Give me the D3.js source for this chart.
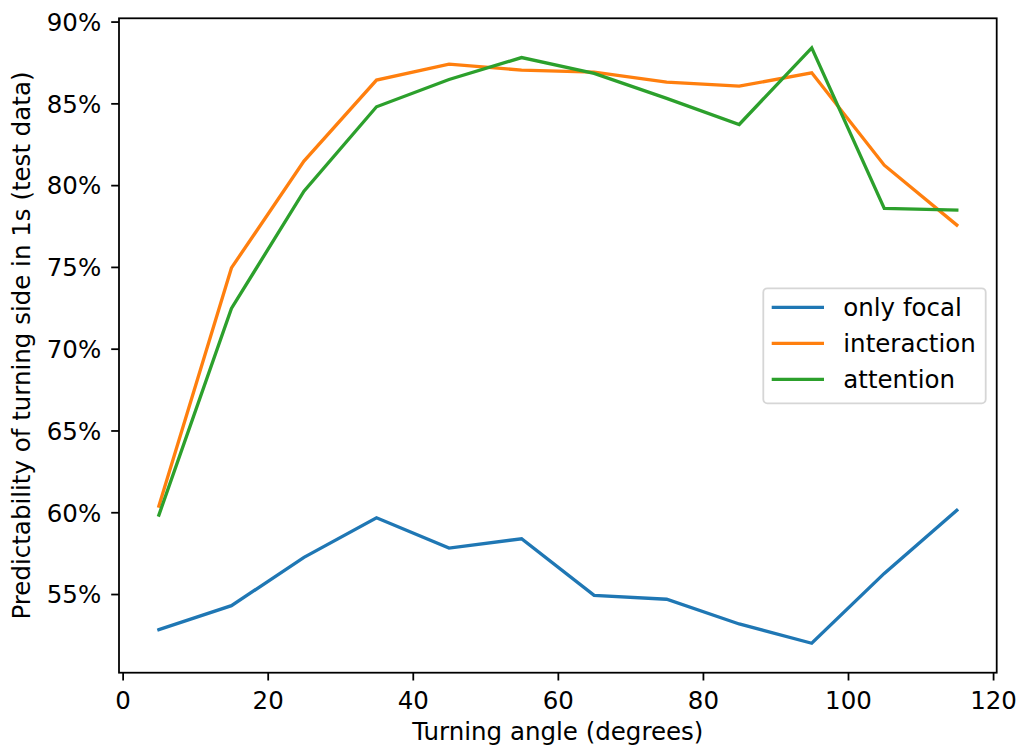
<!DOCTYPE html>
<html>
<head>
<meta charset="utf-8">
<script src="https://cdn.jsdelivr.net/npm/d3@7/dist/d3.min.js"></script>
<style>
  html, body { margin: 0; padding: 0; background: #fff; }
  svg { display: block; font-family: "DejaVu Sans", sans-serif; }
</style>
</head>
<body>
<svg id="chart" width="1022" height="751"></svg>
<script>
// Turning angle bins (degrees)
const angles = [5, 15, 25, 35, 45, 55, 65, 75, 85, 95, 105, 115];

// Predictability of turning side in 1s, test data (%)
const onlyFocal   = [52.82, 54.29, 57.24, 59.66, 57.81, 58.38, 54.92, 54.68, 53.17, 51.99, 56.26, 60.12];
const interaction = [60.38, 74.94, 81.47, 86.42, 87.40, 87.03, 86.91, 86.30, 86.05, 86.87, 81.22, 77.56];
const attention   = [59.83, 72.46, 79.63, 84.79, 86.46, 87.80, 86.83, 85.30, 83.71, 88.39, 78.58, 78.47];

const seriesNames = ["only focal", "interaction", "attention"];
const seriesColors = ["#1f77b4", "#ff7f0e", "#2ca02c"];

const xTicks = [0, 20, 40, 60, 80, 100, 120];
const yTicks = [55, 60, 65, 70, 75, 80, 85, 90];

const xLabel = "Turning angle (degrees)";
const yLabel = "Predictability of turning side in 1s (test data)";

const FONT = 24.5;
const plot = { left: 119, right: 996.7, top: 18.3, bottom: 672.7 };

const svg = d3.select("#chart");

const x = d3.scaleLinear().domain([-0.5, 120.5]).range([plot.left, plot.right]);
const y = d3.scaleLinear().domain([50.19, 90.20]).range([plot.bottom, plot.top]);

// Lines
const line = d3.line().x((d, i) => x(angles[i])).y(d => y(d));
const allSeries = [onlyFocal, interaction, attention];
svg.append("g")
  .selectAll("path")
  .data(allSeries)
  .join("path")
  .attr("d", d => line(d))
  .attr("fill", "none")
  .attr("stroke", (d, i) => seriesColors[i])
  .attr("stroke-width", 3.33)
  .attr("stroke-linejoin", "miter")
  .attr("stroke-linecap", "square");

// Axes
const xAxis = svg.append("g")
  .attr("transform", `translate(0,${plot.bottom})`)
  .call(d3.axisBottom(x).tickValues(xTicks).tickSize(7.8).tickPadding(8.5).tickFormat(d3.format("d")));
const yAxis = svg.append("g")
  .attr("transform", `translate(${plot.left},0)`)
  .call(d3.axisLeft(y).tickValues(yTicks).tickSize(7.8).tickPadding(10).tickFormat(d => d + "%"));

[xAxis, yAxis].forEach(g => {
  g.select(".domain").remove();
  g.selectAll(".tick line").attr("stroke", "#000").attr("stroke-width", 1.78);
  g.selectAll(".tick text")
    .attr("fill", "#000")
    .style("font-family", "DejaVu Sans, sans-serif")
    .style("font-size", FONT + "px");
});
xAxis.selectAll(".tick text").attr("dy", null).attr("y", 0)
  .attr("transform", "translate(0,36.6)");
yAxis.selectAll(".tick text").attr("dy", "0.36em");

// Axes frame
svg.append("rect")
  .attr("x", plot.left).attr("y", plot.top)
  .attr("width", plot.right - plot.left).attr("height", plot.bottom - plot.top)
  .attr("fill", "none").attr("stroke", "#000").attr("stroke-width", 1.78);

// Axis titles
svg.append("text")
  .attr("x", (plot.left + plot.right) / 2).attr("y", 740)
  .attr("text-anchor", "middle")
  .style("font-size", FONT + "px")
  .text(xLabel);
svg.append("text")
  .attr("transform", `translate(30,${(plot.top + plot.bottom) / 2}) rotate(-90)`)
  .attr("text-anchor", "middle")
  .style("font-size", FONT + "px")
  .text(yLabel);

// Legend
const legend = svg.append("g");
legend.append("rect")
  .attr("x", 763.3).attr("y", 288.3)
  .attr("width", 222.4).attr("height", 115)
  .attr("rx", 4).attr("ry", 4)
  .attr("fill", "#fff").attr("fill-opacity", 0.8)
  .attr("stroke", "#d6d6d6").attr("stroke-width", 1.8);
const rows = legend.selectAll("g.row")
  .data(seriesNames)
  .join("g")
  .attr("class", "row")
  .attr("transform", (d, i) => `translate(0,${307.3 + i * 36})`);
rows.append("line")
  .attr("x1", 771.7).attr("x2", 824)
  .attr("y1", 0).attr("y2", 0)
  .attr("stroke", (d, i) => seriesColors[i])
  .attr("stroke-width", 3.33);
rows.append("text")
  .attr("x", 843.3).attr("y", 0).attr("dy", "0.36em")
  .style("font-size", FONT + "px")
  .text(d => d);
</script>
</body>
</html>
